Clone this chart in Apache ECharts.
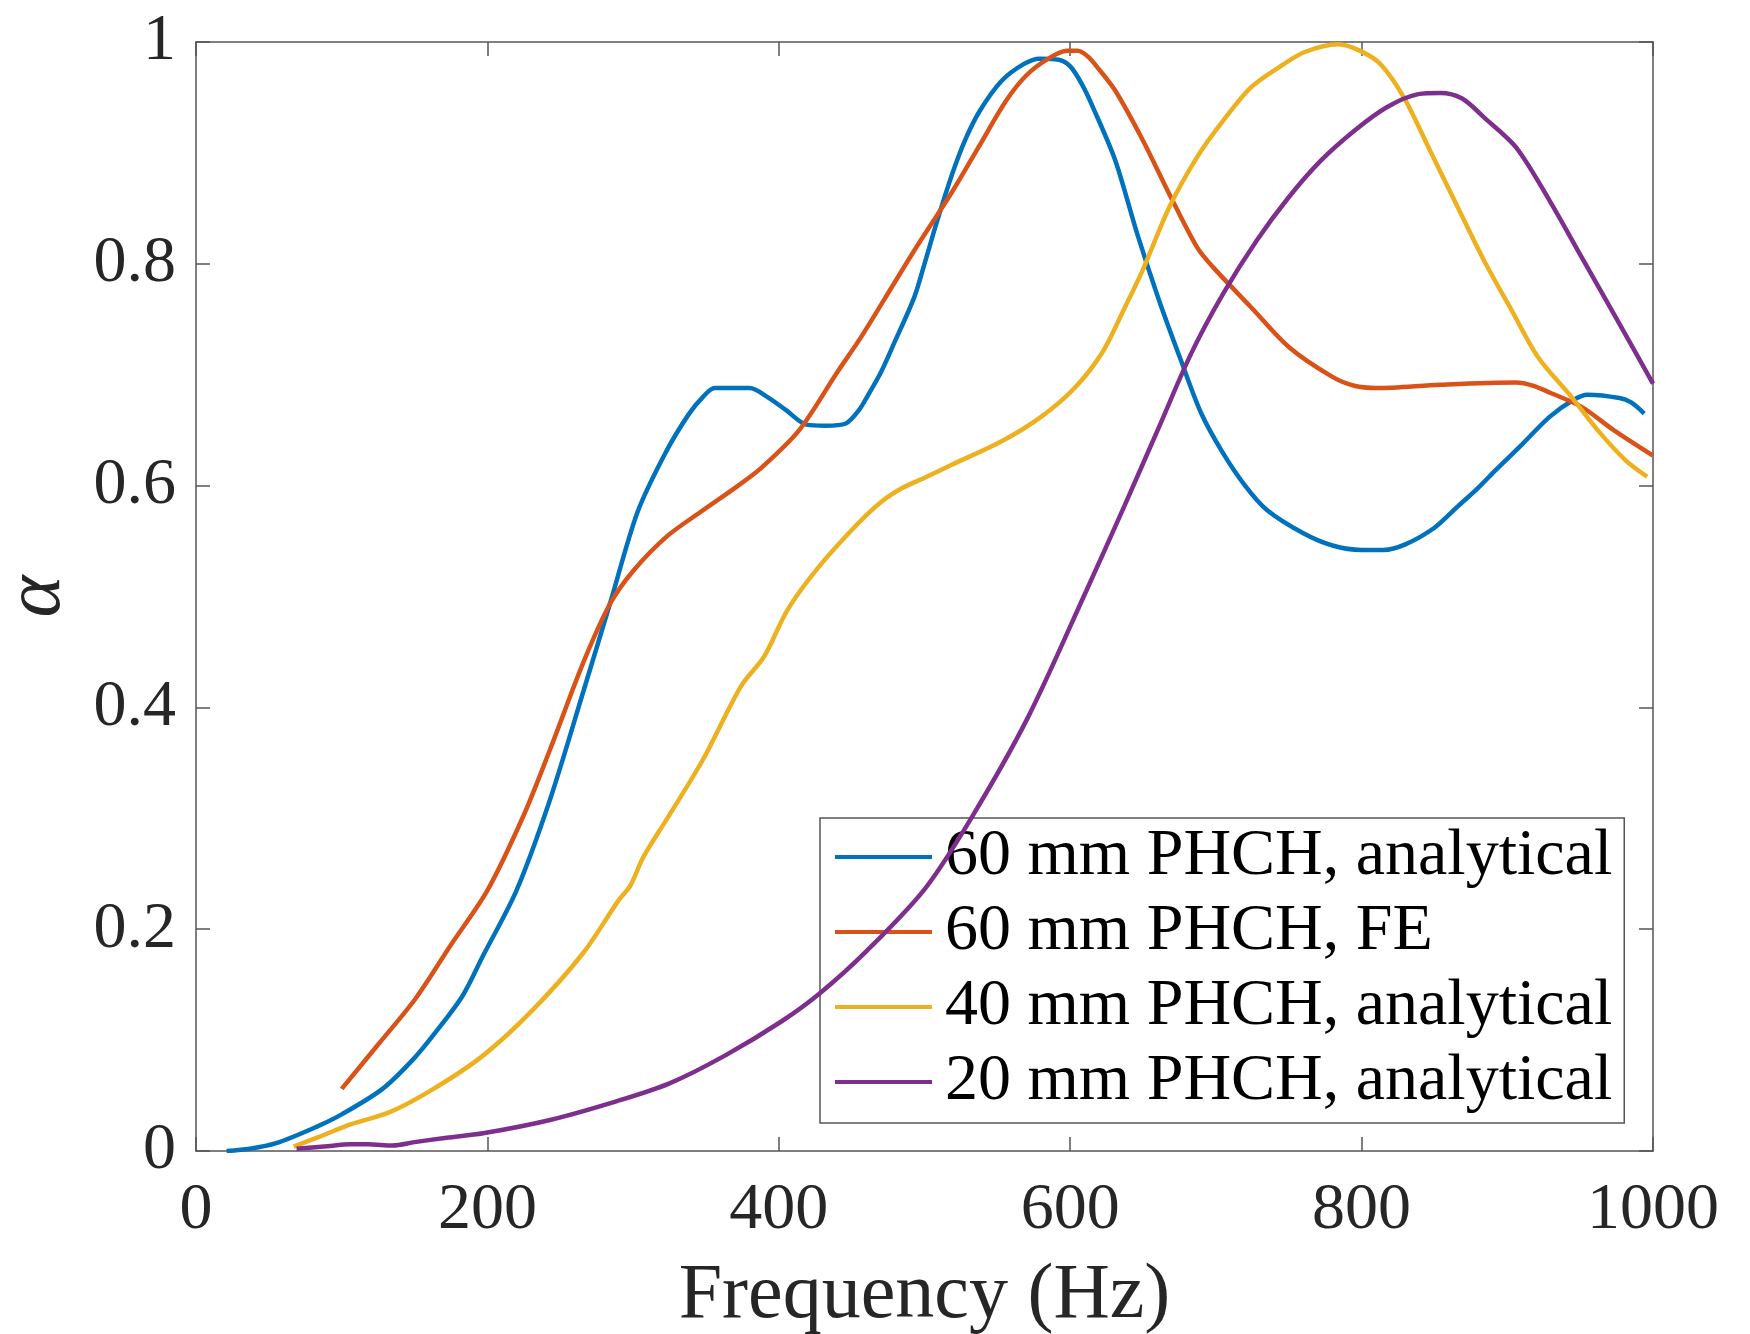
<!DOCTYPE html>
<html>
<head>
<meta charset="utf-8">
<script src="https://cdn.jsdelivr.net/npm/echarts@6/dist/echarts.min.js"></script>
<style>
  html, body { margin: 0; padding: 0; background: #fff; }
  #chart { width: 1750px; height: 1334px; }
</style>
</head>
<body>
<div id="chart"></div>
<script>
// Absorption coefficient versus frequency, [Hz, alpha] pairs
const seriesNames = [
  '60 mm PHCH, analytical',
  '60 mm PHCH, FE',
  '40 mm PHCH, analytical',
  '20 mm PHCH, analytical'
];

const phch60Analytical = [
  [21,0],[37,0.002],[55,0.007],[83,0.022],[100,0.033],[128,0.056],[150,0.084],[165,0.108],
  [183,0.14],[197,0.176],[220,0.235],[243,0.317],[266,0.415],[284,0.493],[303,0.576],
  [322,0.629],[338,0.664],[348,0.68],[356,0.688],[380,0.688],[392,0.68],[405,0.668],[419,0.655],
  [432,0.654],[446,0.656],[455,0.668],[461,0.681],[470,0.702],[479,0.728],[493,0.77],[500,0.8],
  [509,0.84],[519,0.881],[528,0.912],[538,0.938],[553,0.965],[568,0.98],[579,0.985],[592,0.984],
  [600,0.978],[608,0.962],[616,0.94],[631,0.893],[646,0.827],[661,0.767],[676,0.713],[690,0.665],
  [705,0.629],[720,0.6],[735,0.578],[760,0.557],[780,0.546],[800,0.542],[815,0.542],[830,0.547],
  [850,0.562],[865,0.58],[880,0.598],[892,0.614],[910,0.637],[929,0.662],[945,0.677],[955,0.682],
  [977,0.679],[985,0.675],[994,0.665]
];

const phch60FE = [
  [100,0.056],[125,0.096],[151,0.138],[175,0.186],[200,0.235],[225,0.303],[243,0.362],[266,0.441],
  [284,0.493],[300,0.523],[323,0.554],[346,0.576],[370,0.598],[388,0.616],[414,0.65],[440,0.702],
  [456,0.733],[472,0.767],[493,0.812],[519,0.865],[537,0.905],[556,0.947],[570,0.97],[585,0.985],
  [598,0.992],[605,0.992],[612,0.987],[620,0.975],[631,0.956],[650,0.911],[668,0.863],[687,0.815],
  [698,0.797],[724,0.761],[750,0.725],[780,0.698],[795,0.69],[810,0.688],[854,0.691],[906,0.693],
  [918,0.69],[929,0.684],[951,0.671],[973,0.65],[1000,0.627]
];

const phch40Analytical = [
  [67,0.004],[85,0.013],[106,0.024],[133,0.035],[163,0.056],[197,0.086],[231,0.127],[266,0.179],
  [290,0.226],[298,0.239],[307,0.265],[323,0.299],[348,0.353],[374,0.419],[390,0.446],[406,0.488],
  [427,0.526],[453,0.564],[470,0.585],[485,0.598],[500,0.607],[519,0.619],[553,0.64],[580,0.662],
  [603,0.688],[622,0.72],[638,0.762],[650,0.795],[668,0.851],[687,0.896],[705,0.929],[724,0.959],
  [743,0.977],[761,0.991],[784,0.998],[799,0.992],[813,0.98],[829,0.95],[847,0.902],[866,0.851],
  [884,0.803],[903,0.758],[921,0.716],[944,0.68],[962,0.65],[981,0.623],[996,0.608]
];

const phch20Analytical = [
  [69,0.002],[88,0.004],[106,0.006],[118,0.006],[135,0.005],[150,0.008],[172,0.012],[197,0.016],
  [243,0.028],[289,0.045],[325,0.061],[363,0.086],[402,0.117],[428,0.142],[460,0.18],
  [500,0.236],[532,0.3],[571,0.391],[611,0.505],[637,0.581],[661,0.653],[683,0.719],[705,0.773],
  [728,0.821],[750,0.86],[772,0.893],[795,0.92],[817,0.941],[839,0.953],[854,0.954],[869,0.949],
  [884,0.932],[906,0.905],[929,0.857],[951,0.806],[973,0.755],[1000,0.692]
];

const xTicks = { min: 0, max: 1000, interval: 200 };
const yTicks = { min: 0, max: 1, interval: 0.2 };

const lineColors = ['#0072BD', '#D95319', '#EDB120', '#7E2F8E'];
const seriesData = [phch60Analytical, phch60FE, phch40Analytical, phch20Analytical];

const serif = '"Liberation Serif", "DejaVu Serif", serif';
const frameColor = '#555555';
const frameLine = { show: true, onZero: false, lineStyle: { color: frameColor, width: 1.5 } };
const innerTick = { show: true, inside: true, length: 14, lineStyle: { color: frameColor, width: 1.5 } };

const chart = echarts.init(document.getElementById('chart'), null, { renderer: 'canvas' });

chart.setOption({
  backgroundColor: '#ffffff',
  animation: false,
  grid: {
    left: 196, right: 97, top: 42, bottom: 183,
    containLabel: false, outerBoundsMode: 'none'
  },
  legend: {
    orient: 'vertical',
    left: 820,
    top: 818,
    backgroundColor: '#ffffff',
    borderColor: frameColor,
    borderWidth: 1.5,
    borderRadius: 0,
    padding: [6, 12, 8, 15],
    itemGap: 9,
    itemWidth: 97,
    itemHeight: 4,
    icon: 'rect',
    textStyle: {
      fontFamily: serif,
      fontSize: 66,
      lineHeight: 66,
      color: '#000000',
      padding: [0, 0, 0, 8]
    },
    data: seriesNames
  },
  xAxis: [
    {
      type: 'value', position: 'bottom',
      min: xTicks.min, max: xTicks.max, interval: xTicks.interval,
      axisLine: frameLine, axisTick: innerTick, splitLine: { show: false },
      axisLabel: { fontFamily: serif, fontSize: 66, color: '#262626', margin: 27, formatter: v => String(v) },
      name: 'Frequency (Hz)', nameLocation: 'middle', nameGap: 107,
      nameTextStyle: { fontFamily: serif, fontSize: 78, color: '#262626' }
    },
    {
      type: 'value', position: 'top',
      min: xTicks.min, max: xTicks.max, interval: xTicks.interval,
      axisLine: frameLine, axisTick: innerTick, splitLine: { show: false },
      axisLabel: { show: false }
    }
  ],
  yAxis: [
    {
      type: 'value', position: 'left',
      min: yTicks.min, max: yTicks.max, interval: yTicks.interval,
      axisLine: frameLine, axisTick: innerTick, splitLine: { show: false },
      axisLabel: {
        fontFamily: serif, fontSize: 66, color: '#262626', margin: 20,
        formatter: v => (v === 0 || v === 1) ? String(v) : v.toFixed(1)
      },
      name: 'α', nameLocation: 'middle', nameGap: 118,
      nameTextStyle: { fontFamily: serif, fontSize: 80, fontStyle: 'italic', color: '#262626' }
    },
    {
      type: 'value', position: 'right',
      min: yTicks.min, max: yTicks.max, interval: yTicks.interval,
      axisLine: frameLine, axisTick: innerTick, splitLine: { show: false },
      axisLabel: { show: false }
    }
  ],
  series: seriesData.map((data, i) => ({
    name: seriesNames[i],
    type: 'line',
    xAxisIndex: 0,
    yAxisIndex: 0,
    data: data,
    smooth: 0.3,
    showSymbol: false,
    symbol: 'none',
    color: lineColors[i],
    lineStyle: { color: lineColors[i], width: 4.5 },
    z: 2 + i
  }))
});
</script>
</body>
</html>
